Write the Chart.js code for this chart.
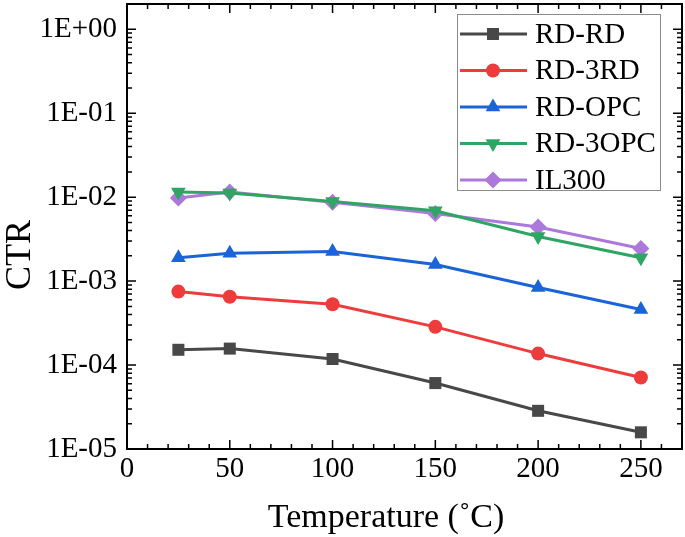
<!DOCTYPE html>
<html>
<head>
<meta charset="utf-8">
<script src="https://cdn.jsdelivr.net/npm/chart.js@4.4.1/dist/chart.umd.min.js"></script>
<style>
  html, body { margin: 0; padding: 0; background: #fff; }
  canvas { display: block; }
</style>
</head>
<body>
<canvas id="chart" width="685" height="537"></canvas>
<script>
// values
var temperatures = [25, 50, 100, 150, 200, 250];
var rdRd   = [1.52e-4, 1.57e-4, 1.18e-4, 6.1e-5, 2.85e-5, 1.58e-5];
var rd3Rd  = [7.5e-4, 6.5e-4, 5.3e-4, 2.85e-4, 1.37e-4, 7.1e-5];
var rdOpc  = [1.9e-3, 2.15e-3, 2.25e-3, 1.58e-3, 8.4e-4, 4.6e-4];
var rd3Opc = [1.15e-2, 1.12e-2, 8.9e-3, 6.9e-3, 3.4e-3, 1.9e-3];
var il300  = [9.8e-3, 1.15e-2, 8.7e-3, 6.4e-3, 4.4e-3, 2.45e-3];

var seriesNames = ['RD-RD', 'RD-3RD', 'RD-OPC', 'RD-3OPC', 'IL300'];
var xTicks = [0, 50, 100, 150, 200, 250];
var yTicks = [1e-5, 1e-4, 1e-3, 1e-2, 1e-1, 1];

var FONT = '"Liberation Serif", "Times New Roman", serif';

function points(values) {
  return temperatures.map(function (t, i) { return { x: t, y: values[i] }; });
}

function expLabel(v) {
  var e = Math.round(Math.log10(v));
  var s = e < 0 ? '-' : '+';
  var n = Math.abs(e);
  return '1E' + s + (n < 10 ? '0' + n : n);
}

function makeSet(label, values, color, style, radius, rotation) {
  return {
    label: label,
    data: points(values),
    borderColor: color,
    backgroundColor: color,
    borderWidth: 3,
    pointStyle: style,
    pointRadius: radius,
    pointHoverRadius: radius,
    pointRotation: rotation || 0,
    pointBorderWidth: 0,
    tension: 0
  };
}

// frame, inward ticks, custom legend and axis titles
var framePlugin = {
  id: 'frame',
  afterDraw: function (chart) {
    var ctx = chart.ctx;
    var a = chart.chartArea;
    var xs = chart.scales.x;
    var ys = chart.scales.y;
    ctx.save();
    ctx.strokeStyle = '#000';
    ctx.lineWidth = 2;
    ctx.strokeRect(a.left, a.top, a.right - a.left, a.bottom - a.top);

    ctx.lineWidth = 1.5;
    ctx.beginPath();
    for (var v = 0; v <= 270; v += 10) {
      var px = xs.getPixelForValue(v);
      if (px <= a.left + 1 || px >= a.right - 1) continue;
      var len = (v % 50 === 0) ? 9 : 5;
      ctx.moveTo(px, a.bottom); ctx.lineTo(px, a.bottom - len);
      ctx.moveTo(px, a.top); ctx.lineTo(px, a.top + len);
    }
    for (var d = -5; d <= 0; d++) {
      for (var m = 1; m <= 9; m++) {
        var val = m * Math.pow(10, d);
        if (val > 2) continue;
        var py = ys.getPixelForValue(val);
        if (py < a.top + 1 || py > a.bottom - 1) continue;
        var l = (m === 1) ? 9 : 5;
        ctx.moveTo(a.left, py); ctx.lineTo(a.left + l, py);
        ctx.moveTo(a.right, py); ctx.lineTo(a.right - l, py);
      }
    }
    ctx.stroke();

    // legend
    ctx.lineWidth = 1;
    ctx.strokeStyle = '#8c8c8c';
    ctx.strokeRect(457.5, 14.5, 203, 176);
    ctx.font = '29px ' + FONT;
    ctx.textBaseline = 'middle';
    ctx.textAlign = 'left';
    chart.data.datasets.forEach(function (ds, i) {
      var y = 34 + i * 36.5;
      ctx.strokeStyle = ds.borderColor;
      ctx.lineWidth = 3;
      ctx.beginPath();
      ctx.moveTo(460, y); ctx.lineTo(527, y);
      ctx.stroke();
      ctx.fillStyle = ds.backgroundColor;
      Chart.helpers.drawPoint(ctx, {
        pointStyle: ds.pointStyle,
        radius: ds.pointRadius,
        rotation: ds.pointRotation,
        borderWidth: 0
      }, 493, y);
      ctx.fillStyle = '#000';
      ctx.fillText(ds.label, 535, y + 1);
    });

    // axis titles
    ctx.fillStyle = '#000';
    ctx.font = '36px ' + FONT;
    ctx.textAlign = 'center';
    ctx.textBaseline = 'middle';
    ctx.save();
    ctx.translate(21, 255);
    ctx.rotate(-Math.PI / 2);
    ctx.fillText('CTR', 0, 0);
    ctx.restore();
    ctx.font = '34px ' + FONT;
    ctx.fillText('Temperature (\u02DAC)', 386, 518);
    ctx.restore();
  }
};

var datasets = [
  makeSet(seriesNames[0], rdRd, '#484848', 'rect', 8.5),
  makeSet(seriesNames[1], rd3Rd, '#ee3b3b', 'circle', 7),
  makeSet(seriesNames[2], rdOpc, '#1a64d8', 'triangle', 8.5),
  makeSet(seriesNames[3], rd3Opc, '#2fa563', 'triangle', 8.5, 180),
  makeSet(seriesNames[4], il300, '#ad78dc', 'rectRot', 8.5)
];

new Chart(document.getElementById('chart').getContext('2d'), {
  type: 'line',
  data: { datasets: datasets },
  options: {
    responsive: false,
    animation: false,
    devicePixelRatio: 1,
    layout: { autoPadding: false, padding: { left: 0, right: 3, top: 4, bottom: 0 } },
    plugins: {
      legend: { display: false },
      tooltip: { enabled: false }
    },
    scales: {
      x: {
        type: 'linear',
        min: 0,
        max: 270,
        grid: { display: false, drawTicks: false },
        border: { display: false },
        afterBuildTicks: function (scale) {
          scale.ticks = xTicks.map(function (v) { return { value: v }; });
        },
        afterFit: function (scale) {
          scale.height = 88;
          scale.paddingLeft = 0;
          scale.paddingRight = 0;
        },
        ticks: {
          autoSkip: false,
          maxRotation: 0,
          padding: 3,
          color: '#000',
          font: { family: FONT, size: 29 }
        }
      },
      y: {
        type: 'logarithmic',
        min: 1e-5,
        max: 2,
        grid: { display: false, drawTicks: false },
        border: { display: false },
        afterBuildTicks: function (scale) {
          scale.ticks = yTicks.map(function (v) { return { value: v }; });
        },
        afterFit: function (scale) {
          scale.width = 127;
          scale.paddingTop = 0;
          scale.paddingBottom = 0;
        },
        ticks: {
          autoSkip: false,
          padding: 10,
          color: '#000',
          font: { family: FONT, size: 29 },
          callback: function (v) { return expLabel(v); }
        }
      }
    }
  },
  plugins: [framePlugin]
});
</script>
</body>
</html>
